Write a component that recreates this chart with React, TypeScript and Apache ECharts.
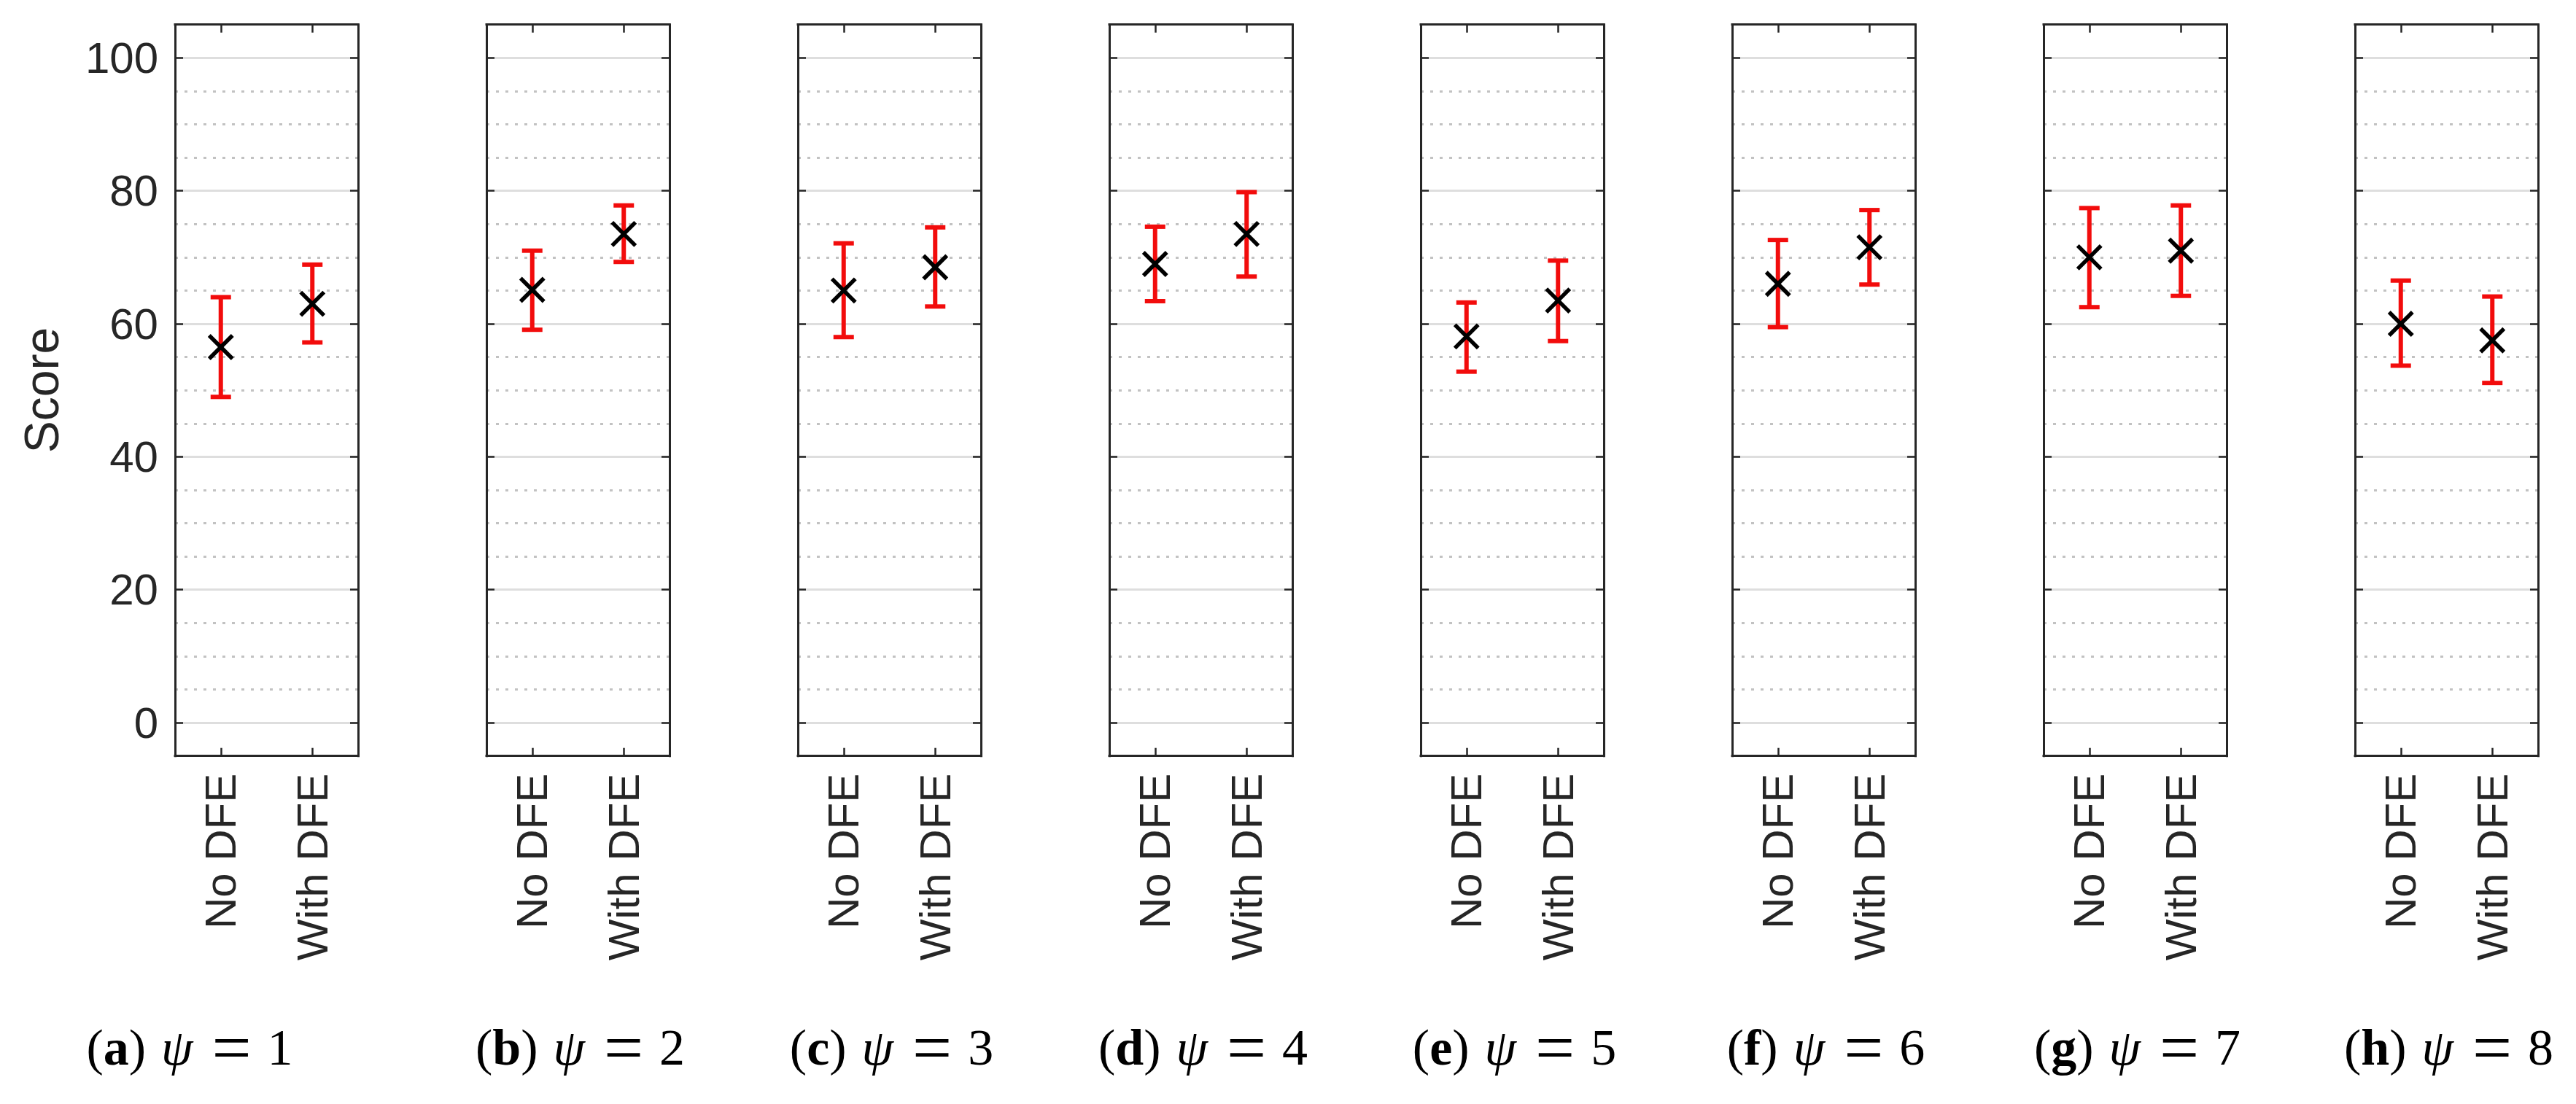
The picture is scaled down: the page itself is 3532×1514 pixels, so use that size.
import React, { useEffect, useRef } from 'react';
import * as echarts from 'echarts';

// ---------- data ----------
const categories = ['No DFE', 'With DFE'];
const panelLetters = ['a', 'b', 'c', 'd', 'e', 'f', 'g', 'h'];
const psiValues = [1, 2, 3, 4, 5, 6, 7, 8];
const noDfeMean = [56.5, 65.1, 65.0, 69.0, 58.1, 66.0, 70.0, 60.0];
const noDfeLow = [49.0, 59.1, 58.0, 63.4, 52.8, 59.5, 62.5, 53.7];
const noDfeHigh = [64.0, 71.0, 72.1, 74.6, 63.2, 72.6, 77.4, 66.5];
const withDfeMean = [63.0, 73.5, 68.5, 73.5, 63.5, 71.5, 71.0, 57.5];
const withDfeLow = [57.2, 69.3, 62.6, 67.1, 57.4, 65.9, 64.2, 51.1];
const withDfeHigh = [68.9, 77.8, 74.5, 79.8, 69.5, 77.1, 77.8, 64.1];
const yTickValues = [0, 20, 40, 60, 80, 100];
const yMin = -5;
const yMax = 105;
const yMinorStep = 5;
const yAxisTitle = 'Score';

// ---------- layout / style ----------
const GRID_LEFT0 = 240;
const GRID_STEP = 427;
const GRID_W = 251;
const GRID_TOP = 33.7;
const GRID_H = 1003;
const AX = '#262626';
const RED = '#f20c0c';
const SANS = 'Liberation Sans';
const SERIF = 'Liberation Serif';

function buildOption() {
  const n = panelLetters.length;
  const grid: any[] = [];
  const xAxis: any[] = [];
  const yAxis: any[] = [];
  const series: any[] = [];
  const graphic: any[] = [];

  const lineStyle = { color: AX, width: 3, cap: 'square' };
  const tickStyle = { color: AX, width: 2.5 };
  const labelFmt = (v: number) => (yTickValues.includes(v) ? String(v) : '');

  for (let i = 0; i < n; i++) {
    const left = GRID_LEFT0 + i * GRID_STEP;
    grid.push({ left, top: GRID_TOP, width: GRID_W, height: GRID_H });

    // x axes: bottom (labels) and top (ticks only)
    xAxis.push({
      type: 'category', gridIndex: i, data: categories, position: 'bottom', z: 3,
      axisLine: { show: true, onZero: false, lineStyle },
      axisTick: { show: true, inside: true, alignWithLabel: true, length: 11, lineStyle: tickStyle },
      axisLabel: { show: true, interval: 0, rotate: 90, margin: 24, fontSize: 60, fontFamily: SANS, color: AX },
      splitLine: { show: false },
    });
    xAxis.push({
      type: 'category', gridIndex: i, data: categories, position: 'top', z: 3,
      axisLine: { show: true, onZero: false, lineStyle },
      axisTick: { show: true, inside: true, alignWithLabel: true, length: 11, lineStyle: tickStyle },
      axisLabel: { show: false },
      splitLine: { show: false },
    });

    // y axes: dotted minor grid, solid major grid, left ticks/labels, right ticks
    yAxis.push({
      type: 'value', gridIndex: i, min: yMin, max: yMax, interval: yMinorStep, position: 'left', z: 0,
      axisLine: { show: false, onZero: false }, axisTick: { show: false }, axisLabel: { show: false },
      splitLine: { show: true, lineStyle: { color: '#c2c2c2', width: 2.8, type: [4, 9] } },
    });
    yAxis.push({
      type: 'value', gridIndex: i, min: yMin, max: yMax, position: 'left', z: 1,
      axisLine: { show: false, onZero: false },
      axisTick: { show: false, customValues: yTickValues },
      axisLabel: { show: false },
      splitLine: { show: true, lineStyle: { color: '#dedede', width: 2.8 } },
    });
    yAxis.push({
      type: 'value', gridIndex: i, min: yMin, max: yMax, position: 'left', z: 3,
      axisLine: { show: true, onZero: false, lineStyle },
      axisTick: { show: true, inside: true, length: 11, lineStyle: tickStyle, customValues: yTickValues },
      axisLabel: {
        show: i === 0, margin: 23, fontSize: 60, fontFamily: SANS, color: AX,
        customValues: yTickValues, formatter: labelFmt,
      },
      splitLine: { show: false },
    });
    yAxis.push({
      type: 'value', gridIndex: i, min: yMin, max: yMax, position: 'right', z: 3,
      axisLine: { show: true, onZero: false, lineStyle },
      axisTick: { show: true, inside: true, length: 11, lineStyle: tickStyle, customValues: yTickValues },
      axisLabel: { show: false },
      splitLine: { show: false },
    });

    series.push({
      type: 'custom',
      xAxisIndex: 2 * i,
      yAxisIndex: 4 * i + 2,
      z: 5,
      data: [
        [0, noDfeMean[i], noDfeLow[i], noDfeHigh[i]],
        [1, withDfeMean[i], withDfeLow[i], withDfeHigh[i]],
      ],
      renderItem: (params: any, api: any) => {
        const x = api.value(0);
        const pm = api.coord([x, api.value(1)]);
        const pl = api.coord([x, api.value(2)]);
        const ph = api.coord([x, api.value(3)]);
        const cw = 14;
        const mh = 16;
        const red = { stroke: RED, lineWidth: 6 };
        const blk = { stroke: '#000', lineWidth: 5.5 };
        return {
          type: 'group',
          children: [
            { type: 'line', shape: { x1: pm[0], y1: pl[1], x2: pm[0], y2: ph[1] }, style: red },
            { type: 'line', shape: { x1: pm[0] - cw, y1: ph[1], x2: pm[0] + cw, y2: ph[1] }, style: red },
            { type: 'line', shape: { x1: pm[0] - cw, y1: pl[1], x2: pm[0] + cw, y2: pl[1] }, style: red },
            { type: 'line', shape: { x1: pm[0] - mh, y1: pm[1] - mh, x2: pm[0] + mh, y2: pm[1] + mh }, style: blk },
            { type: 'line', shape: { x1: pm[0] - mh, y1: pm[1] + mh, x2: pm[0] + mh, y2: pm[1] - mh }, style: blk },
          ],
        };
      },
    });

    // caption
    const cx = i === 0 ? 260 : left + GRID_W / 2 + 3;
    graphic.push({
      type: 'text',
      x: cx,
      y: 1436.4,
      style: {
        text: `{n|(}{b|${panelLetters[i]}}{n|)}{g1| }{i|ψ}{g2| }{e|=}{g3| }{n|${psiValues[i]}}`,
        align: 'center',
        verticalAlign: 'middle',
        fontSize: 70,
        fontFamily: SERIF,
        fill: '#000',
        rich: {
          n: { fontSize: 70, fontFamily: SERIF, fill: '#000' },
          b: { fontSize: 70, fontFamily: SERIF, fontWeight: 'bold', fill: '#000' },
          i: { fontSize: 70, fontFamily: SERIF, fontStyle: 'italic', fill: '#000' },
          e: { fontSize: 96, fontFamily: SERIF, fill: '#000' },
          g1: { fontSize: 70, fontFamily: SERIF, width: 21 },
          g2: { fontSize: 70, fontFamily: SERIF, width: 26 },
          g3: { fontSize: 70, fontFamily: SERIF, width: 22 },
        },
      },
    });
  }

  graphic.push({
    type: 'text',
    x: 57,
    y: 535,
    rotation: Math.PI / 2,
    style: { text: yAxisTitle, fontSize: 66, fontFamily: SANS, fill: AX, align: 'center', verticalAlign: 'middle' },
  });

  return { animation: false, backgroundColor: '#ffffff', grid, xAxis, yAxis, series, graphic };
}

export default function App() {
  const ref = useRef<HTMLDivElement>(null);
  useEffect(() => {
    document.body.style.margin = '0';
    document.body.style.overflow = 'hidden';
    if (!ref.current) return;
    const chart = echarts.init(ref.current, undefined, { renderer: 'svg' });
    chart.setOption(buildOption() as any);
    return () => chart.dispose();
  }, []);
  return <div ref={ref} style={{ width: 3532, height: 1514 }} />;
}
